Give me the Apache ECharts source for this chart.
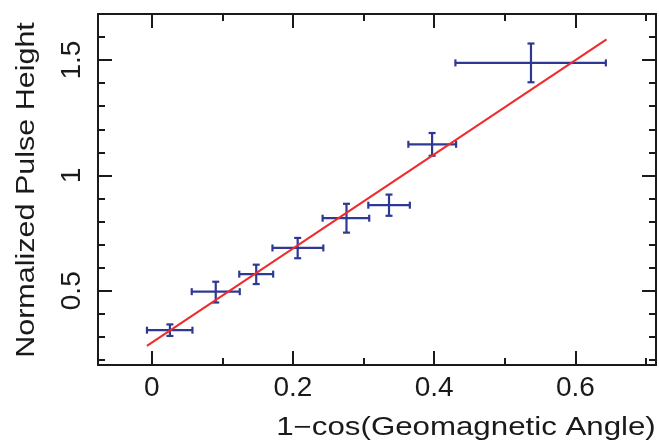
<!DOCTYPE html>
<html>
<head>
<meta charset="utf-8">
<script src="https://cdn.jsdelivr.net/npm/echarts@6/dist/echarts.min.js"></script>
<style>
html,body{margin:0;padding:0;background:#fff;}
#chart{width:659px;height:447px;}
</style>
</head>
<body>
<div id="chart"></div>
<script>
// ---- data ----
var xCenter = [0.0258, 0.0907, 0.148, 0.2067, 0.2758, 0.336, 0.397, 0.537];
var xLow    = [-0.0067, 0.0567, 0.124, 0.171, 0.242, 0.3067, 0.3634, 0.430];
var xHigh   = [0.0577, 0.1247, 0.172, 0.243, 0.308, 0.3655, 0.431, 0.643];
var yCenter = [0.329, 0.496, 0.572, 0.6855, 0.8145, 0.871, 1.135, 1.488];
var yLow    = [0.304, 0.449, 0.529, 0.641, 0.752, 0.825, 1.0855, 1.404];
var yHigh   = [0.354, 0.539, 0.613, 0.729, 0.877, 0.917, 1.184, 1.572];
var fitX    = [-0.0067, 0.644];
var fitY    = [0.261, 1.59];

var xMajor = [0, 0.2, 0.4, 0.6];
var xMinor = [0.1, 0.3, 0.5, 0.7];
var yMajor = [0.5, 1, 1.5];
var yMinor = [0.2, 0.3, 0.4, 0.6, 0.7, 0.8, 0.9, 1.1, 1.2, 1.3, 1.4, 1.6];
var xRange = [-0.076, 0.714];
var yRange = [0.178, 1.70];

var xTitle = '1\u2212cos(Geomagnetic Angle)';
var yTitle = 'Normalized Pulse Height';

var FRAME = '#1a1a1a';
var BLUE = '#2f3893';
var RED = '#ef2b2b';

var chart = echarts.init(document.getElementById('chart'), null, {renderer: 'canvas'});

function xAxisDef(pos, vals, len, showLabel, showLine) {
  return {
    type: 'value', position: pos, min: xRange[0], max: xRange[1],
    splitLine: {show: false},
    axisLine: {show: showLine, onZero: false, lineStyle: {color: FRAME, width: 2}},
    axisTick: {show: true, inside: true, length: len, customValues: vals, lineStyle: {color: FRAME, width: 2}},
    axisLabel: {show: showLabel, customValues: vals, margin: 9,
      fontFamily: 'Liberation Sans', fontSize: 28, color: '#1a1a1a'}
  };
}
function yAxisDef(pos, vals, len, showLabel, showLine) {
  return {
    type: 'value', position: pos, min: yRange[0], max: yRange[1],
    splitLine: {show: false},
    axisLine: {show: showLine, onZero: false, lineStyle: {color: FRAME, width: 2}},
    axisTick: {show: true, inside: true, length: len, customValues: vals, lineStyle: {color: FRAME, width: 2}},
    axisLabel: {show: showLabel, customValues: vals, rotate: 90, margin: 12,
      fontFamily: 'Liberation Sans', fontSize: 28, color: '#1a1a1a'}
  };
}

var errData = xCenter.map(function (x, i) {
  return [x, yCenter[i], xLow[i], xHigh[i], yLow[i], yHigh[i]];
});

var option = {
  animation: false,
  backgroundColor: '#ffffff',
  grid: {left: 98, right: 3, top: 14, bottom: 82},
  xAxis: [
    xAxisDef('bottom', xMajor, 14, true, true),
    xAxisDef('bottom', xMinor, 7, false, false),
    xAxisDef('top', xMajor, 14, false, true),
    xAxisDef('top', xMinor, 7, false, false)
  ],
  yAxis: [
    yAxisDef('left', yMajor, 14, true, true),
    yAxisDef('left', yMinor, 7, false, false),
    yAxisDef('right', yMajor, 14, false, true),
    yAxisDef('right', yMinor, 7, false, false)
  ],
  graphic: [
    {type: 'text', x: 466, y: 428, scaleX: 1.25,
      style: {text: xTitle, fontFamily: 'Liberation Sans', fontSize: 25, fill: '#1a1a1a',
        align: 'center', verticalAlign: 'middle'}},
    {type: 'text', x: 27, y: 190, rotation: Math.PI / 2, scaleX: 1.22,
      style: {text: yTitle, fontFamily: 'Liberation Sans', fontSize: 25, fill: '#1a1a1a',
        align: 'center', verticalAlign: 'middle'}}
  ],
  series: [
    {
      type: 'line', xAxisIndex: 0, yAxisIndex: 0,
      data: [[fitX[0], fitY[0]], [fitX[1], fitY[1]]],
      showSymbol: false, symbol: 'none',
      lineStyle: {color: RED, width: 2}, z: 3
    },
    {
      type: 'custom', xAxisIndex: 0, yAxisIndex: 0, z: 2,
      data: errData,
      renderItem: function (params, api) {
        var c = api.coord([api.value(0), api.value(1)]);
        var l = api.coord([api.value(2), api.value(1)]);
        var r = api.coord([api.value(3), api.value(1)]);
        var b = api.coord([api.value(0), api.value(4)]);
        var t = api.coord([api.value(0), api.value(5)]);
        var cap = 3.5;
        var st = {stroke: BLUE, lineWidth: 2.2, fill: null};
        return {
          type: 'group',
          children: [
            {type: 'line', shape: {x1: l[0], y1: l[1], x2: r[0], y2: r[1]}, style: st},
            {type: 'line', shape: {x1: l[0], y1: l[1] - cap, x2: l[0], y2: l[1] + cap}, style: st},
            {type: 'line', shape: {x1: r[0], y1: r[1] - cap, x2: r[0], y2: r[1] + cap}, style: st},
            {type: 'line', shape: {x1: b[0], y1: b[1], x2: t[0], y2: t[1]}, style: st},
            {type: 'line', shape: {x1: b[0] - cap, y1: b[1], x2: b[0] + cap, y2: b[1]}, style: st},
            {type: 'line', shape: {x1: t[0] - cap, y1: t[1], x2: t[0] + cap, y2: t[1]}, style: st}
          ]
        };
      }
    }
  ]
};
chart.setOption(option);
</script>
</body>
</html>
